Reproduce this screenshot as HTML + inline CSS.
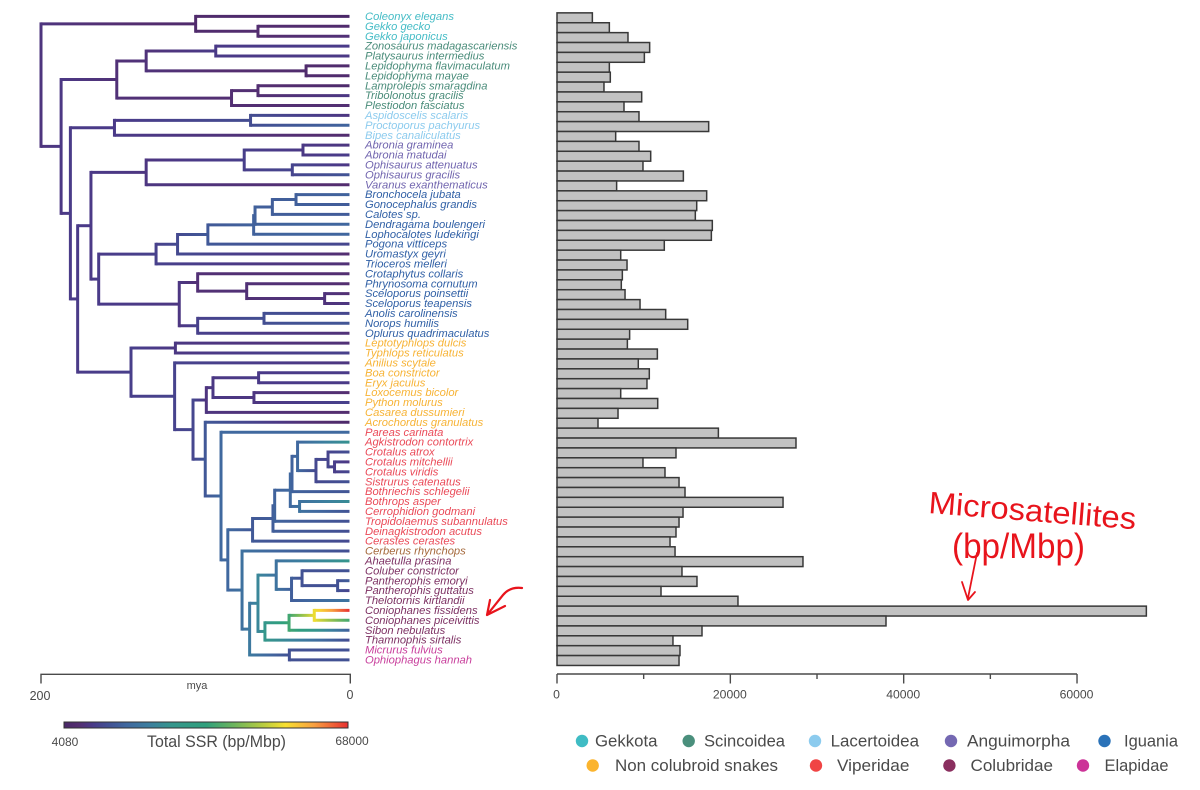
<!DOCTYPE html>
<html lang="en">
<head>
<meta charset="utf-8">
<title>Total SSR phylogeny and microsatellite bar chart</title>
<style>
html,body{margin:0;padding:0;background:#fff;}
svg{display:block;font-family:"Liberation Sans",sans-serif;}
.ax{stroke:#4a4a4a;stroke-width:1.4;fill:none;}
.tick-text{fill:#4a4a4a;font-size:12.2px;text-anchor:middle;}
.legend-text{fill:#4a4a4a;font-size:17px;}
.species{font-size:11.2px;font-style:italic;}
.hand{fill:#e8141c;font-family:"Liberation Sans",sans-serif;}
</style>
</head>
<body>
<svg id="chart" xmlns="http://www.w3.org/2000/svg" width="1200" height="790" viewBox="0 0 1200 790">
  <defs>
    <linearGradient id="cbar" x1="0" x2="1" y1="0" y2="0"></linearGradient>
  </defs>
  <g id="tree"></g>
  <g id="labels"></g>
  <g id="bars"></g>

  <g>
    <path class="ax" d="M41 683.5V674.3H350.3V683.5"/>
    <text class="tick-text" x="197" y="689" style="font-size:11px">mya</text>
    <text class="tick-text" x="40" y="700" style="font-size:12.5px">200</text>
    <text class="tick-text" x="350" y="699" style="font-size:12.5px">0</text>
  </g>
  <g id="baraxis"></g>

  <g>
    <rect x="64" y="722" width="284" height="6" fill="url(#cbar)" stroke="#333" stroke-width="1"/>
    <text class="tick-text" x="65" y="746" style="font-size:12px">4080</text>
    <text class="tick-text" x="352" y="745" style="font-size:12px">68000</text>
    <text x="147" y="747" fill="#4a4a4a" font-size="16.5" textLength="139" lengthAdjust="spacingAndGlyphs">Total SSR (bp/Mbp)</text>
  </g>

  <g>
    <g><circle cx="582" cy="741" r="6.2" fill="#3fbcc4"/><text class="legend-text" x="595" y="746.5" textLength="62.5" lengthAdjust="spacingAndGlyphs">Gekkota</text></g>
    <g><circle cx="688.7" cy="741" r="6.2" fill="#4a8f7c"/><text class="legend-text" x="704" y="746.5" textLength="81" lengthAdjust="spacingAndGlyphs">Scincoidea</text></g>
    <g><circle cx="815" cy="741" r="6.2" fill="#8ccbee"/><text class="legend-text" x="830.6" y="746.5" textLength="88.4" lengthAdjust="spacingAndGlyphs">Lacertoidea</text></g>
    <g><circle cx="951" cy="741" r="6.2" fill="#7468b2"/><text class="legend-text" x="967" y="746.5" textLength="103" lengthAdjust="spacingAndGlyphs">Anguimorpha</text></g>
    <g><circle cx="1104.5" cy="741" r="6.2" fill="#2a72b8"/><text class="legend-text" x="1124" y="746.5" textLength="54" lengthAdjust="spacingAndGlyphs">Iguania</text></g>
    <g><circle cx="592.7" cy="765.5" r="6.2" fill="#fbb42e"/><text class="legend-text" x="615" y="771" textLength="163" lengthAdjust="spacingAndGlyphs">Non colubroid snakes</text></g>
    <g><circle cx="816" cy="765.5" r="6.2" fill="#f04444"/><text class="legend-text" x="837" y="771" textLength="72.4" lengthAdjust="spacingAndGlyphs">Viperidae</text></g>
    <g><circle cx="949.4" cy="765.5" r="6.2" fill="#8a2f5f"/><text class="legend-text" x="970.5" y="771" textLength="82.5" lengthAdjust="spacingAndGlyphs">Colubridae</text></g>
    <g><circle cx="1083" cy="765.5" r="6.2" fill="#cc3398"/><text class="legend-text" x="1104.5" y="771" textLength="64" lengthAdjust="spacingAndGlyphs">Elapidae</text></g>
  </g>

  <g>
    <text class="hand" x="928" y="513" font-size="31" textLength="208" lengthAdjust="spacingAndGlyphs" transform="rotate(4.5 928 513)">Microsatellites</text>
    <text class="hand" x="952" y="558" font-size="35" textLength="133" lengthAdjust="spacingAndGlyphs">(bp/Mbp)</text>
    <path d="M977 553L968 598M962 582L968 600L975 592" fill="none" stroke="#e8141c" stroke-width="1.8" stroke-linecap="round" stroke-linejoin="round"/>
    <path d="M522 588C514 587 508 589 503 595L487 615M490 600L487 615L505 606" fill="none" stroke="#e8141c" stroke-width="2.2" stroke-linecap="round" stroke-linejoin="round"/>
  </g>
</svg>

<script>
const species = ["Coleonyx elegans","Gekko gecko","Gekko japonicus","Zonosaurus madagascariensis","Platysaurus intermedius","Lepidophyma flavimaculatum","Lepidophyma mayae","Lamprolepis smaragdina","Tribolonotus gracilis","Plestiodon fasciatus","Aspidoscelis scalaris","Proctoporus pachyurus","Bipes canaliculatus","Abronia graminea","Abronia matudai","Ophisaurus attenuatus","Ophisaurus gracilis","Varanus exanthematicus","Bronchocela jubata","Gonocephalus grandis","Calotes sp.","Dendragama boulengeri","Lophocalotes ludekingi","Pogona vitticeps","Uromastyx geyri","Trioceros melleri","Crotaphytus collaris","Phrynosoma cornutum","Sceloporus poinsettii","Sceloporus teapensis","Anolis carolinensis","Norops humilis","Oplurus quadrimaculatus","Leptotyphlops dulcis","Typhlops reticulatus","Anilius scytale","Boa constrictor","Eryx jaculus","Loxocemus bicolor","Python molurus","Casarea dussumieri","Acrochordus granulatus","Pareas carinata","Agkistrodon contortrix","Crotalus atrox","Crotalus mitchellii","Crotalus viridis","Sistrurus catenatus","Bothriechis schlegelii","Bothrops asper","Cerrophidion godmani","Tropidolaemus subannulatus","Deinagkistrodon acutus","Cerastes cerastes","Cerberus rhynchops","Ahaetulla prasina","Coluber constrictor","Pantherophis emoryi","Pantherophis guttatus","Thelotornis kirtlandii","Coniophanes fissidens","Coniophanes piceivittis","Sibon nebulatus","Thamnophis sirtalis","Micrurus fulvius","Ophiophagus hannah"];

const ssrValues = [4080,6040,8190,10690,10080,6040,6150,5420,9770,7730,9460,17500,6770,9460,10810,9920,14580,6880,17270,16120,15960,17920,17810,12380,7350,8080,7540,7420,7850,9580,12540,15080,8380,8120,11580,9380,10650,10380,7350,11620,7040,4730,18620,27575,13730,9920,12460,14080,14770,26080,14540,14080,13730,13040,13620,28380,14420,16150,12000,20880,68000,37960,16730,13380,14190,14080];

const groupCounts = [3,7,3,5,15,9,12,1,9,2];
const groupColors = ["#45bcc6","#4a8c7a","#8ccbee","#7064ae","#2f5fa5","#f7b335","#ea4a58","#a5693c","#7d3163","#c83f9c"];

// Nested clades: [age in mya, child, child]; a 0 stands for the next tip in species order.
const treeClades = [200,
 [100,0,[59.7,0,0]],
 [187,
  [151,[132,[87,0,0],[28.6,0,0]],[76.8,[59.7,0,0],0]],
  [181,
   [152.5,[64.5,0,0],0],
   [176.3,
    [167.7,
     [132,[68.6,[30.6,0,0],[37.5,0,0]],0],
     [162.7,
      [125.6,[111.7,[92.1,[62.5,[61.6,[50.4,[35.1,0,0],0],0],0],0],0],0],
      [110.6,[98.7,0,[67,0,[16.6,0,0]]],[98.7,[55.8,0,0],0]]
     ]
    ],
    [141.8,
     [113.1,0,0],
     [113.6,0,
      [101.7,
       [93.1,[88.8,[59.3,0,0],[62.3,0,0]],0],
       [93.8,0,
        [83.6,0,
         [79.2,
          [63.2,[50,[48.9,[38.8,[37.7,[34.1,0,[22.2,[14.4,0,[10.2,0,0]],0]],0],[32.8,0,0]],0],0],0],
          [70,0,
           [65.1,
            [59.7,[47.9,0,[38,[31.2,0,[8.2,0,0]],0]],[55.2,[39.6,[23.3,0,0],0],0]],
            [39.4,0,0]
           ]
          ]
         ]
        ]
       ]
      ]
     ]
    ]
   ]
  ]
 ]
];

const barTicks = [0,10000,20000,30000,40000,50000,60000];
const barTickLabels = ["0","","20000","","40000","","60000"];
const colorDomain = [4080,68000];

const SVGNS = "http://www.w3.org/2000/svg";
function mk(tag, attrs, parent){
  const el = document.createElementNS(SVGNS, tag);
  for (const k in attrs) el.setAttribute(k, attrs[k]);
  parent.appendChild(el);
  return el;
}
const xAge = a => 350.3 - a * 1.5465;
const yTip = i => 16.4 + i * 9.9;
const xVal = v => 557 + v * 0.008667;
const yBar = i => 17.8 + i * 9.888;

const ramp = [[0,[74,40,104]],[0.05,[84,46,112]],[0.1,[74,58,136]],[0.16,[66,82,148]],[0.22,[64,104,159]],[0.3,[60,127,159]],[0.38,[53,150,140]],[0.5,[47,160,124]],[0.6,[109,181,92]],[0.7,[183,204,64]],[0.78,[248,224,48]],[0.88,[248,160,64]],[1,[232,48,48]]];
function colorOf(v){
  const t = Math.max(0, Math.min(1, (v - colorDomain[0]) / (colorDomain[1] - colorDomain[0])));
  for (let i = 1; i < ramp.length; i++){
    if (t <= ramp[i][0]){
      const a = ramp[i-1], b = ramp[i], f = (t - a[0]) / (b[0] - a[0]);
      return "rgb(" + [0,1,2].map(c => Math.round(a[1][c] + f * (b[1][c] - a[1][c]))).join(",") + ")";
    }
  }
  return "rgb(232,48,48)";
}

const defs = document.querySelector("defs");
const cbar = document.getElementById("cbar");
ramp.forEach(s => mk("stop", {offset: s[0], "stop-color": colorOf(colorDomain[0] + s[0] * (colorDomain[1] - colorDomain[0]))}, cbar));

// Build the tree: tip order gives y, node y is the midpoint of its children,
// node value is a branch-length weighted estimate from its descendants.
let tipCursor = 0;
function build(n){
  if (n === 0){
    const i = tipCursor++;
    return {age: 0, y: yTip(i), value: ssrValues[i], variance: 0, kids: [], tip: i};
  }
  const kids = [build(n[1]), build(n[2])];
  const age = n[0];
  const w = kids.map(k => 1 / Math.max(0.01, (age - k.age) + k.variance));
  const sum = w[0] + w[1];
  return {
    age, kids,
    y: (kids[0].y + kids[1].y) / 2,
    value: (kids[0].value * w[0] + kids[1].value * w[1]) / sum,
    variance: 1 / sum
  };
}
const root = build(treeClades);

const treeG = document.getElementById("tree");
let gradId = 0;
const edges = [], connectors = [];
function walk(node){
  if (!node.kids.length) return;
  const x = xAge(node.age);
  connectors.push({x, y1: node.kids[0].y, y2: node.kids[1].y, value: node.value});
  node.kids.forEach(k => { edges.push({p: node, c: k}); walk(k); });
}
walk(root);

edges.forEach(e => {
  const x1 = xAge(e.p.age);
  const x2 = e.c.age === 0 ? 349.5 : xAge(e.c.age);
  const id = "edge" + (gradId++);
  const g = mk("linearGradient", {id, gradientUnits: "userSpaceOnUse", x1, x2, y1: 0, y2: 0}, defs);
  for (let s = 0; s <= 6; s++){
    const f = s / 6;
    mk("stop", {offset: f, "stop-color": colorOf(e.p.value + f * (e.c.value - e.p.value))}, g);
  }
  const line = mk("line", {x1, x2, y1: e.c.y, y2: e.c.y, stroke: "url(#" + id + ")", "stroke-width": 3}, treeG);
  
  
});
connectors.forEach(c => {
  const line = mk("line", {x1: c.x, x2: c.x, y1: c.y1 - 1.5, y2: c.y2 + 1.5, stroke: colorOf(c.value), "stroke-width": 3}, treeG);
  
  
});

// Species labels
const labelG = document.getElementById("labels");
let groupIdx = 0, groupLeft = groupCounts[0];
species.forEach((name, i) => {
  if (groupLeft === 0){ groupIdx++; groupLeft = groupCounts[groupIdx]; }
  groupLeft--;
  const t = mk("text", {class: "species", x: 365, y: yTip(i) + 3.6, fill: groupColors[groupIdx]}, labelG);
  t.textContent = name;
  
  
});

// Bars
const barG = document.getElementById("bars");
ssrValues.forEach((v, i) => {
  const r = mk("rect", {x: xVal(0), y: yBar(i) - 4.944, width: xVal(v) - xVal(0), height: 9.888, fill: "#c2c2c2", stroke: "#383838", "stroke-width": 1.5}, barG);
  
  
});

// Bar axis
const axisG = document.getElementById("baraxis");
const axisLine = mk("line", {class: "ax", x1: xVal(0), x2: xVal(barTicks[barTicks.length - 1]), y1: 674, y2: 674}, axisG);


barTicks.forEach((v, i) => {
  const major = barTickLabels[i] !== "";
  const tk = mk("line", {class: "ax", x1: xVal(v), x2: xVal(v), y1: 674, y2: major ? 683.5 : 679}, axisG);
  
  
  if (major){
    const t = mk("text", {class: "tick-text", x: xVal(v) - 0.5, y: 698.5}, axisG);
    t.textContent = barTickLabels[i];
    
    
  }
});
</script>
</body>
</html>
